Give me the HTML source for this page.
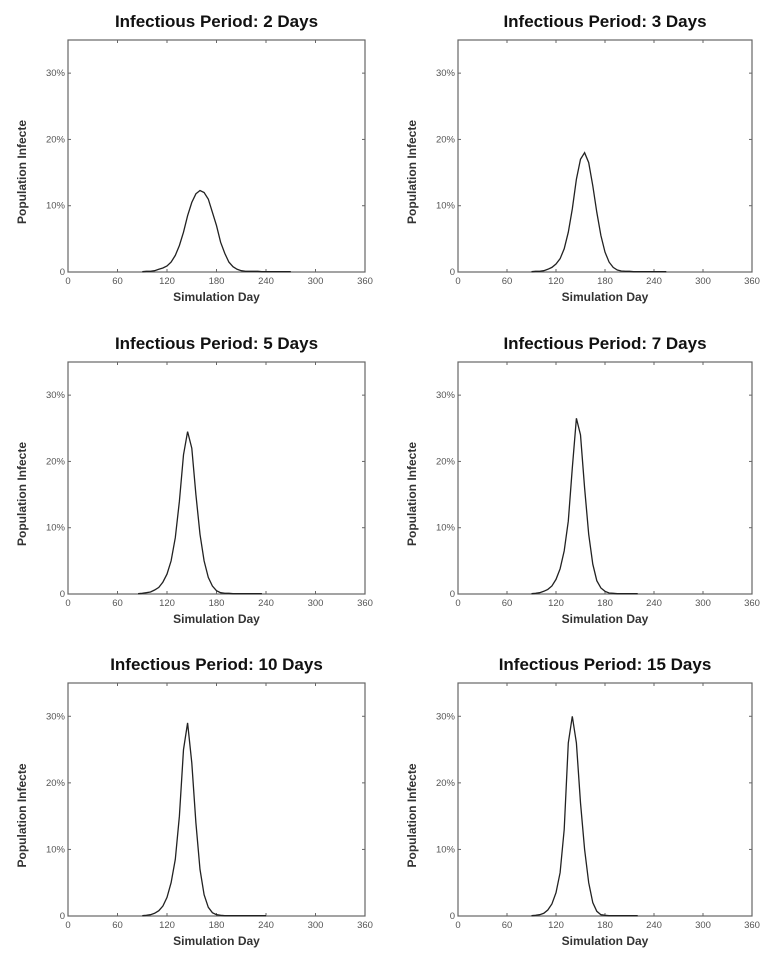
<!DOCTYPE html>
<html><head><meta charset="utf-8"><style>
body{margin:0;background:#fff;width:777px;height:968px;overflow:hidden;font-family:"Liberation Sans",sans-serif}
svg{display:block}
</style></head><body>
<svg id="chart" width="777" height="968"></svg>
<script>
const titles = ["Infectious Period: 2 Days","Infectious Period: 3 Days","Infectious Period: 5 Days","Infectious Period: 7 Days","Infectious Period: 10 Days","Infectious Period: 15 Days"];
const xTicks = [0,60,120,180,240,300,360];
const xTickLabels = ["0","60","120","180","240","300","360"];
const yTicks = [0,10,20,30];
const yTickLabels = ["0","10%","20%","30%"];
const startDays = [90,90,85,90,90,90];
const stepDays = 5;
const vals2 = [0.05,0.1,0.1,0.2,0.4,0.6,0.9,1.5,2.5,4,6,8.5,10.5,11.8,12.3,12,11,9,7,4.5,2.8,1.5,0.8,0.4,0.2,0.1,0.1,0.1,0.1,0.05,0.05,0.05,0.05,0.05,0.05,0.05,0.05];
const vals3 = [0.05,0.1,0.1,0.2,0.4,0.7,1.2,2,3.5,6,9.5,14,17,18,16.5,13,9,5.5,3,1.5,0.7,0.3,0.15,0.1,0.1,0.05,0.05,0.05,0.05,0.05,0.05,0.05,0.05,0.05];
const vals5 = [0.05,0.1,0.2,0.3,0.6,1,1.8,3,5,8.5,14,21,24.5,22,15,9,5,2.5,1.2,0.5,0.2,0.1,0.1,0.05,0.05,0.05,0.05,0.05,0.05,0.05,0.05];
const vals7 = [0.05,0.1,0.2,0.4,0.7,1.2,2.2,3.8,6.5,11,19,26.5,24,16,9,4.5,2,0.9,0.4,0.15,0.1,0.05,0.05,0.05,0.05,0.05,0.05];
const vals10 = [0.05,0.1,0.2,0.4,0.8,1.5,2.8,5,8.5,15,25,29,23,14,7,3.2,1.3,0.5,0.2,0.1,0.05,0.05,0.05,0.05,0.05,0.05,0.05,0.05,0.05,0.05,0.05];
const vals15 = [0.05,0.1,0.2,0.4,0.9,1.8,3.5,6.5,13,26,30,26,17,10,5,2,0.7,0.2,0.1,0.05,0.05,0.05,0.05,0.05,0.05,0.05,0.05];
const series = [vals2,vals3,vals5,vals7,vals10,vals15];

const NS="http://www.w3.org/2000/svg";
const svg=document.getElementById('chart');
function mk(tag,attrs,parent){const e=document.createElementNS(NS,tag);for(const k in attrs)e.setAttribute(k,attrs[k]);(parent||svg).appendChild(e);return e;}
const colX=[68,458], boxW=[297,294];
const rowTop=[40,362,683], rowBot=[272,594,916];
for(let p=0;p<6;p++){
  const c=p%2, r=Math.floor(p/2);
  const L=colX[c], R=L+boxW[c], T=rowTop[r], B=rowBot[r];
  const sx=d=>L+(d/360)*(R-L);
  const sy=v=>B-v*(B-T)/35;
  const g=mk('g',{});
  
  
  const t=mk('text',{x:(L+R)/2,y:T-13,'text-anchor':'middle','font-size':'17','font-weight':'bold',fill:'#111'},g);
  t.textContent=titles[p];
  
  
  const box=mk('rect',{x:L,y:T,width:R-L,height:B-T,fill:'none',stroke:'#666','stroke-width':'1.2'},g);
  
  
  xTicks.forEach((d,i)=>{
    const x=sx(d);
    mk('line',{x1:x,x2:x,y1:B,y2:B-3,stroke:'#666'},g);
    mk('line',{x1:x,x2:x,y1:T,y2:T+3,stroke:'#666'},g);
    const tl=mk('text',{x:x,y:B+12,'text-anchor':'middle','font-size':'9.5',fill:'#555'},g);
    tl.textContent=xTickLabels[i];
    
    
  });
  yTicks.forEach((v,i)=>{
    const y=sy(v);
    mk('line',{x1:L,x2:L+3,y1:y,y2:y,stroke:'#666'},g);
    mk('line',{x1:R,x2:R-3,y1:y,y2:y,stroke:'#666'},g);
    const tl=mk('text',{x:L-3,y:y+3,'text-anchor':'end','font-size':'9.5',fill:'#555'},g);
    tl.textContent=yTickLabels[i];
    
    
  });
  const xt=mk('text',{x:(L+R)/2,y:B+29,'text-anchor':'middle','font-size':'12','font-weight':'bold',fill:'#333'},g);
  xt.textContent='Simulation Day';
  
  
  const yt=mk('text',{x:0,y:0,'text-anchor':'middle','font-size':'12','font-weight':'bold',fill:'#333',transform:`translate(${L-42},${(T+B)/2+16}) rotate(-90)`},g);
  yt.textContent='Population Infecte';
  
  
  const vals=series[p];
  const pts=vals.map((v,i)=>sx(startDays[p]+i*stepDays).toFixed(1)+','+sy(v).toFixed(1)).join(' ');
  const pl=mk('polyline',{points:pts,fill:'none',stroke:'#222','stroke-width':'1.3'},g);
  
  
}
</script>
</body></html>
